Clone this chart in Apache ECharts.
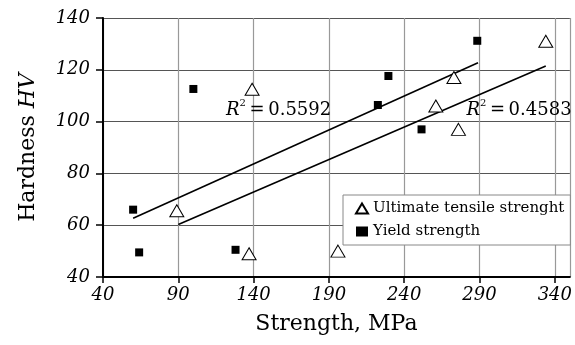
<!DOCTYPE html>
<html><head><meta charset="utf-8">
<script src="https://cdn.jsdelivr.net/npm/echarts@6/dist/echarts.min.js"></script>
<style>html,body{margin:0;padding:0;background:#fff}#c{width:575px;height:345px}</style>
</head><body><div id="c"></div>
<script>
// Ultimate tensile strength [MPa, HV]
const utsData = [[89, 65.6], [137, 49], [139, 112.5], [196, 50], [261, 106], [273, 117], [276, 97], [334, 131]];
// Yield strength [MPa, HV]
const yieldData = [[60, 66], [64, 49.5], [100, 112.6], [128, 50.5], [222.5, 106.4], [229.5, 117.6], [251.5, 97], [288.5, 131.2]];
// trend lines (end points)
const yieldTrend = [[60, 62.7], [289, 122.7]];
const utsTrend = [[90, 60.3], [334, 121.5]];
// R^2 annotations
const r2Labels = [[121.7, 100.8, '0.5592'], [281.3, 100.8, '0.4583']];
const xTicks = {min: 40, max: 350, interval: 50};
const yTicks = {min: 40, max: 140, interval: 20};

const serif = 'DejaVu Serif';
const chart = echarts.init(document.getElementById('c'));
chart.setOption({
  animation: false,
  grid: {left: 103, top: 18, right: 2, bottom: 68},
  xAxis: {
    type: 'value', min: xTicks.min, max: xTicks.max, interval: xTicks.interval,
    name: 'Strength, MPa', nameLocation: 'middle', nameGap: 36,
    nameTextStyle: {fontFamily: serif, fontSize: 22, color: '#000'},
    axisLine: {show: true, lineStyle: {color: '#000', width: 2}},
    axisTick: {show: true, length: 6, lineStyle: {color: '#000', width: 1.5}},
    axisLabel: {fontFamily: serif, fontStyle: 'italic', fontSize: 18, color: '#000', margin: 9, showMaxLabel: false,
      formatter: v => (v - 40) % 50 === 0 ? String(v) : ''},
    splitLine: {show: true, lineStyle: {color: '#999', width: 1.2}}
  },
  yAxis: {
    type: 'value', min: yTicks.min, max: yTicks.max, interval: yTicks.interval,
    name: '{n|Hardness }{i|HV}', nameLocation: 'middle', nameGap: 64,
    nameTextStyle: {fontFamily: serif, fontSize: 22, color: '#000',
      rich: {n: {fontFamily: serif, fontSize: 22, color: '#000'}, i: {fontFamily: serif, fontSize: 22, fontStyle: 'italic', color: '#000'}}},
    axisLine: {show: true, lineStyle: {color: '#000', width: 2}},
    axisTick: {show: true, length: 7, lineStyle: {color: '#000', width: 1.5}},
    axisLabel: {fontFamily: serif, fontStyle: 'italic', fontSize: 18, color: '#000', margin: 13},
    splitLine: {show: true, lineStyle: {color: '#555', width: 1.2}}
  },
  legend: {
    show: true, orient: 'vertical', left: 343, top: 195,
    data: ['Ultimate tensile strenght', 'Yield strength'],
    backgroundColor: '#fff', borderColor: '#888', borderWidth: 1,
    padding: [6, 6, 6, 12], itemGap: 8, itemWidth: 12, itemHeight: 10,
    textStyle: {fontFamily: serif, fontSize: 15, color: '#000'}
  },
  series: [
    {name: 'utsTrend', type: 'line', data: utsTrend, showSymbol: false, silent: true,
      lineStyle: {color: '#000', width: 1.6}, z: 3},
    {name: 'yieldTrend', type: 'line', data: yieldTrend, showSymbol: false, silent: true,
      lineStyle: {color: '#000', width: 1.6}, z: 3},
    {name: 'Ultimate tensile strenght', type: 'scatter', data: utsData, symbol: 'triangle', symbolSize: [14, 12],
      itemStyle: {color: '#fff', borderColor: '#000', borderWidth: 1, opacity: 1}, z: 4},
    {name: 'Yield strength', type: 'scatter', data: yieldData, symbol: 'rect', symbolSize: 8,
      itemStyle: {color: '#000', opacity: 1}, z: 4},
    {name: 'r2', type: 'scatter', data: r2Labels, symbolSize: 0, silent: true, z: 5,
      itemStyle: {opacity: 1, color: '#000'},
      label: {show: true, position: 'right', distance: 0, verticalAlign: 'bottom', color: '#000',
        formatter: p => '{i|R}{s|2}{t|\u2009=\u2009' + p.data[2] + '}',
        rich: {
          i: {fontFamily: serif, fontStyle: 'italic', fontSize: 18, color: '#000', verticalAlign: 'bottom'},
          s: {fontFamily: serif, fontSize: 10, color: '#000', verticalAlign: 'top', padding: [0, 0, 11, 0]},
          t: {fontFamily: serif, fontSize: 18, color: '#000', verticalAlign: 'bottom'}
        }}}
  ]
});
</script></body></html>
